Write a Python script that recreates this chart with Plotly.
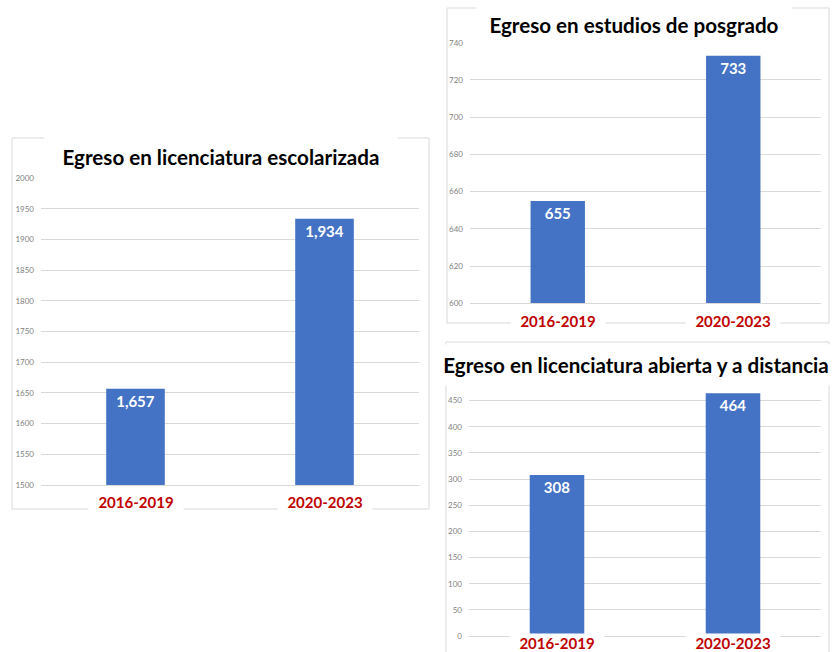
import plotly.graph_objects as go

# data
periodos = ["2016-2019", "2020-2023"]
escolarizada = [1657, 1934]
posgrado = [655, 733]
abierta = [308, 464]

titulos = [
    "Egreso en licenciatura escolarizada",
    "Egreso en estudios de posgrado",
    "Egreso en licenciatura abierta y a distancia",
]

W, H = 835, 652
FONT = "Lato"
BAR = "#4472C4"
GRID = "#D9D9D9"
RED = "#C00000"


def px(x):
    return x / W


def py(y):
    return 1 - y / H


fig = go.Figure()

series = [escolarizada, posgrado, abierta]
axes = [("x", "y"), ("x2", "y2"), ("x3", "y3")]
for vals, (xa, ya) in zip(series, axes):
    fig.add_trace(go.Bar(
        x=periodos, y=vals, xaxis=xa, yaxis=ya,
        marker=dict(color=BAR, line=dict(width=0)),
        texttemplate="<b>%{y:,}</b>", textposition="inside",
        insidetextanchor="end", textangle=0,
        insidetextfont=dict(family=FONT, size=15, color="white"),
        showlegend=False, hoverinfo="skip",
    ))

# panel geometry (pixels): x0, x1 of plot area, y for range bottom / top
panels = [
    dict(x=(41, 419), y=(485, 178.3), rng=[1500, 2000], dt=50,
         box=(12, 138, 429, 509), title=(221, 157, 350, 40), lab=502),
    dict(x=(470, 821), y=(303.3, 42.7), rng=[600, 740], dt=20,
         box=(447, 8, 829, 323), title=(634, 25, 312, 40), lab=321),
    dict(x=(469, 821), y=(636, 390.2), rng=[0, 470], dt=50,
         box=(446, 342, 829, 700), title=(636, 365, 392, 38), lab=643),
]

layout = dict(
    width=W, height=H, margin=dict(l=0, r=0, t=0, b=0, autoexpand=False),
    paper_bgcolor="white", plot_bgcolor="white",
    bargap=0.69, font=dict(family=FONT), shapes=[], annotations=[],
)

for i, p in enumerate(panels):
    sfx = "" if i == 0 else str(i + 1)
    layout["xaxis" + sfx] = dict(
        domain=[px(p["x"][0]), px(p["x"][1])], anchor="y" + sfx,
        type="category", showticklabels=False, showgrid=False,
        showline=True, linecolor=GRID, linewidth=1, ticks="", fixedrange=True,
    )
    layout["yaxis" + sfx] = dict(
        domain=[py(p["y"][0]), py(p["y"][1])], anchor="x" + sfx,
        range=p["rng"], dtick=p["dt"], tick0=0, showgrid=True,
        gridcolor=GRID, gridwidth=1, zeroline=False, showline=False,
        ticks="", ticklabelstandoff=6,
        tickfont=dict(family=FONT, size=8, color="#7F7F7F"), fixedrange=True,
    )
    x0, y0, x1, y1 = p["box"]
    layout["shapes"].append(dict(
        type="rect", xref="paper", yref="paper",
        x0=px(x0), x1=px(x1), y0=py(y0), y1=py(y1),
        line=dict(color=GRID, width=1), layer="below",
    ))
    tx, ty, tw, th = p["title"]
    layout["annotations"].append(dict(
        text="<b>" + titulos[i] + "</b>", xref="paper", yref="paper",
        x=px(tx), y=py(ty), xanchor="center", yanchor="middle",
        showarrow=False, bgcolor="white", width=tw, height=th,
        font=dict(family=FONT, size=20.6, color="black"),
    ))
    for per in periodos:
        layout["annotations"].append(dict(
            text="<b>" + per + "</b>", xref="x" + sfx, yref="paper",
            x=per, y=py(p["lab"]), xanchor="center", yanchor="middle",
            showarrow=False, bgcolor="white", width=92, height=16,
            font=dict(family=FONT, size=15, color=RED),
        ))

fig.update_layout(**layout)
fig.write_html("out.html", config={"displayModeBar": False},
               post_script="document.body.style.margin='0';")
